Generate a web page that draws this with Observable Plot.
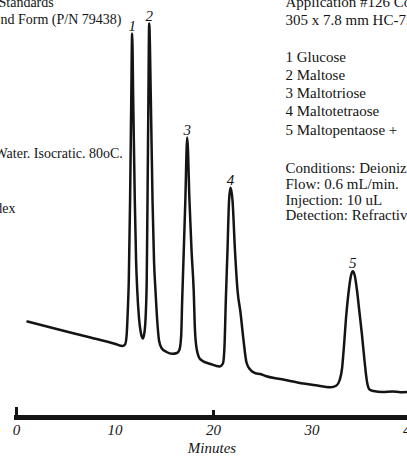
<!DOCTYPE html>
<html><head><meta charset="utf-8">
<script src="https://cdn.jsdelivr.net/npm/d3@7"></script>
<script src="https://cdn.jsdelivr.net/npm/@observablehq/plot@0.6"></script>
<style>
html,body{margin:0;padding:0;background:#fff;overflow:hidden;}
#chart{width:407px;height:458px;overflow:hidden;position:relative;}
</style></head><body><div id="chart"></div>
<script>
// Retention time (minutes) and detector signal (arbitrary units)
const minutes = [1.12, 4.47, 7.51, 10.05, 10.76,
  11.02, 11.17, 11.30, 11.40, 11.53,
  11.65, 11.74, 11.85, 12.01, 12.14,
  12.26, 12.44, 12.62, 12.82, 12.99,
  13.13, 13.22, 13.30, 13.39, 13.47,
  13.64, 13.81, 13.96, 14.11, 14.30,
  14.47, 14.72, 15.23, 15.84, 16.29,
  16.55, 16.72, 16.82, 16.95, 17.14,
  17.33, 17.56, 17.77, 17.99, 18.12,
  18.32, 18.68, 19.70, 20.61, 20.96,
  21.12, 21.25, 21.42, 21.58, 21.73,
  21.93, 22.18, 22.44, 22.74, 23.05,
  23.35, 23.76, 24.26, 24.77, 25.28,
  26.80, 28.53, 30.36, 31.88, 32.49,
  32.79, 33.05, 33.25, 33.45, 33.71,
  33.96, 34.14, 34.34, 34.57, 34.82,
  35.08, 35.33, 35.58, 35.84, 36.24,
  37.16, 38.17, 38.98, 40.00];
const signal = [96, 87.5, 80, 73.5, 71.5,
  73, 81, 107, 137, 217,
  317, 384, 317, 217, 157,
  127, 99, 85, 79, 85,
  105, 137, 217, 317, 394,
  317, 217, 157, 127, 95,
  77, 69.5, 65.5, 63.7, 64.5,
  68, 82, 117, 157, 217,
  280, 217, 167, 127, 87,
  67, 58, 53.5, 51, 54,
  72, 117, 167, 217, 230,
  217, 167, 127, 105, 77,
  55, 47.5, 44.3, 43.5, 41.5,
  38.5, 35, 32.2, 30.3, 32,
  37, 49, 72, 99, 125,
  142, 146.3, 142, 127, 105,
  82, 57, 36, 28, 26.5,
  25.5, 26, 25.3, 25.7];

const peakIds = ["1", "2", "3", "4", "5"];
const peakMinutes = [11.74, 13.47, 17.33, 21.73, 34.14];
const peakSignal = [384, 394, 280, 230, 146.3];

const tickLabels = [0, 10, 20, 30, 40];
const majorTicks = [0, 20];
const axisTitle = "Minutes";

const leftNotes = ["Standards", "nd Form (P/N 79438)", "Water. Isocratic. 80oC.", "Index"];
const rightNotes = ["Application #126 Column", "305 x 7.8 mm HC-75",
  "1 Glucose", "2 Maltose", "3 Maltotriose", "4 Maltotetraose", "5 Maltopentaose +",
  "Conditions: Deionized Water", "Flow: 0.6 mL/min.", "Injection: 10 uL", "Detection: Refractive Index"];

// ---- build ----
const trace = minutes.map((t, i) => ({t, s: signal[i]}));
const peaks = peakIds.map((id, i) => ({id, t: peakMinutes[i], s: peakSignal[i]}));

const FONT = "Liberation Serif, Times New Roman, serif";
const INK = "#141414";
const marginLeft = 16;

// layout (pixel positions of note lines)
const leftLayout = [{x: -2, y: 6}, {x: 0, y: 23.5}, {x: -6, y: 157}, {x: -17, y: 212}];
const rightLayout = [6, 24, 61.5, 79, 97, 115, 134, 172, 188, 204, 219].map(y => ({x: 285, y}));

const noteMarks = (lines, layout, size) => lines.map((line, i) =>
  Plot.text([line], {
    text: d => d, frameAnchor: "top-left", textAnchor: "start", lineAnchor: "bottom",
    dx: layout[i].x - marginLeft, dy: layout[i].y,
    fontSize: size, fontFamily: FONT, fill: INK
  }));

const chart = Plot.plot({
  width: 407, height: 458,
  marginTop: 0, marginBottom: 41, marginLeft, marginRight: 0,
  x: {domain: [0, 40], range: [16, 410], label: null},
  y: {domain: [0, 417], axis: null, label: null},
  style: {fontFamily: FONT, background: "#fff", color: INK},
  marks: [
    Plot.ruleY([0], {strokeWidth: 5, stroke: INK, insetLeft: -2}),
    Plot.ruleX([majorTicks[0]], {y1: 0, y2: 0, insetBottom: 10, strokeWidth: 3, stroke: INK}),
    Plot.ruleX([majorTicks[1]], {y1: 0, y2: 0, insetBottom: 7, strokeWidth: 3, stroke: INK}),
    Plot.axisX({ticks: tickLabels, tickSize: 0, tickPadding: 7, label: null,
      fontSize: 15, fontStyle: "italic", fontFamily: FONT, tickFormat: d => String(d)}),
    Plot.text([axisTitle], {text: d => d, frameAnchor: "bottom", lineAnchor: "bottom", dy: 35,
      fontSize: 15, fontStyle: "italic", fontFamily: FONT, fill: INK}),
    Plot.line(trace, {x: "t", y: "s", curve: "monotone-x", stroke: INK, strokeWidth: 2.5,
      strokeLinejoin: "round"}),
    Plot.text(peaks, {x: "t", y: "s", text: "id", lineAnchor: "bottom", dy: -3,
      fontSize: 15, fontStyle: "italic", fontFamily: FONT, fill: INK}),
    ...noteMarks(leftNotes, leftLayout, 14),
    ...noteMarks(rightNotes, rightLayout, 15)
  ]
});
document.getElementById("chart").appendChild(chart);
</script>
</body></html>
